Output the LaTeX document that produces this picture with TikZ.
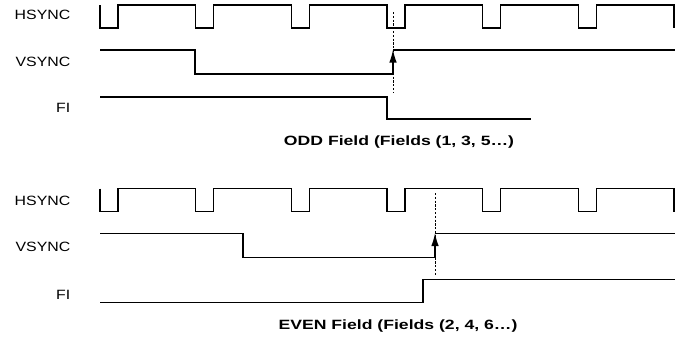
\documentclass[tikz,border=0pt]{standalone}
\usepackage{fontspec}
\usepackage{graphicx}
\setmainfont{Liberation Sans}
\usetikzlibrary{arrows.meta}
\tikzset{
  wave/.style={line width=1.3bp, black, line join=miter},
  guide/.style={line width=0.8bp, black, dash pattern=on 2.2bp off 1.6bp},
  edgearrow/.style={line width=1.3bp, black, -{Latex[length=13bp,width=7.5bp]}},
  siglabel/.style={anchor=east, inner sep=0pt, font=\fontsize{13.5}{15}\selectfont},
  caption/.style={anchor=center, inner sep=0pt, font=\fontsize{13.5}{15}\selectfont\bfseries}
}
\begin{document}
\begin{tikzpicture}[x=1bp,y=-1bp]
\useasboundingbox (0,0) rectangle (683,337);
% labels
\node[siglabel] (hs1) at (70.5,15) {\scalebox{1.18}[1]{HSYNC}};
\node[siglabel] (vs1) at (70.5,62) {\scalebox{1.18}[1]{VSYNC}};
\node[siglabel] (fi1) at (70.5,108) {\scalebox{1.18}[1]{FI}};
\node[siglabel] (hs2) at (70.5,200.5) {\scalebox{1.18}[1]{HSYNC}};
\node[siglabel] (vs2) at (70.5,246.5) {\scalebox{1.18}[1]{VSYNC}};
\node[siglabel] (fi2) at (70.5,295) {\scalebox{1.18}[1]{FI}};
\node[caption] (odd) at (399,142) {\scalebox{1.31}[1]{ODD Field (Fields (1, 3, 5…)}};
\node[caption] (even) at (398,326) {\scalebox{1.31}[1]{EVEN Field (Fields (2, 4, 6…)}};
% top waveforms
\draw[wave] (100,5) -- (100,28) -- (118,28) -- (118,5) -- (195.67,5) -- (195.67,28) -- (213.67,28) -- (213.67,5)
  -- (291.33,5) -- (291.33,28) -- (309.33,28) -- (309.33,5) -- (387,5) -- (387,28) -- (405,28) -- (405,5)
  -- (482.67,5) -- (482.67,28) -- (500.67,28) -- (500.67,5) -- (578.33,5) -- (578.33,28) -- (596.33,28) -- (596.33,5)
  -- (674,5) -- (674,28);
\coordinate (g1a) at (393,12);
\coordinate (g1b) at (393,92);
\draw[guide] (g1a) -- (g1b);
\coordinate (v1lo) at (393,74);
\coordinate (v1hi) at (393,49.5);
\draw[wave] (100,50) -- (195,50) -- (195,74) -- (v1lo);
\draw[edgearrow] (v1lo) -- (v1hi);
\draw[wave] (393,50) -- (675,50);
\draw[wave] (100,97) -- (387,97) -- (387,119) -- (531,119);
% bottom waveforms
\draw[wave] (100,188.5) -- (100,211.5) -- (118,211.5) -- (118,188.5) -- (195.67,188.5) -- (195.67,211.5) -- (213.67,211.5) -- (213.67,188.5)
  -- (291.33,188.5) -- (291.33,211.5) -- (309.33,211.5) -- (309.33,188.5) -- (387,188.5) -- (387,211.5) -- (405,211.5) -- (405,188.5)
  -- (482.67,188.5) -- (482.67,211.5) -- (500.67,211.5) -- (500.67,188.5) -- (578.33,188.5) -- (578.33,211.5) -- (596.33,211.5) -- (596.33,188.5)
  -- (674,188.5) -- (674,211.5);
\coordinate (g2a) at (435,193);
\coordinate (g2b) at (435,275);
\draw[guide] (g2a) -- (g2b);
\coordinate (v2lo) at (435,257.5);
\coordinate (v2hi) at (435,233);
\draw[wave] (100,233.5) -- (243,233.5) -- (243,257.5) -- (v2lo);
\draw[edgearrow] (v2lo) -- (v2hi);
\draw[wave] (435,233.5) -- (675,233.5);
\draw[wave] (100,302.5) -- (423,302.5) -- (423,279.5) -- (675,279.5);
\end{tikzpicture}
\end{document}
